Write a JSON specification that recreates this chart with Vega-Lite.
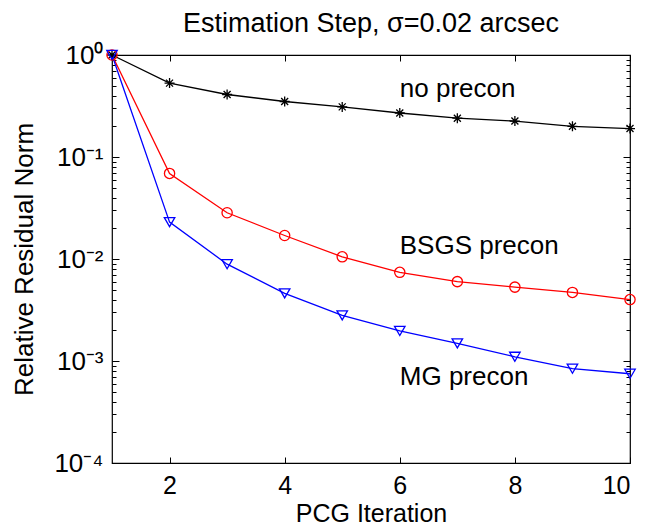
{
  "$schema": "https://vega.github.io/schema/vega-lite/v6.json",
  "autosize": "none",
  "padding": {"left": 112, "top": 55, "right": 16, "bottom": 69},
  "width": 518,
  "height": 408,
  "background": "white",
  "config": {
    "font": "Liberation Sans",
    "view": {"stroke": "black", "strokeWidth": 1.2},
    "axis": {"grid": false, "domain": false, "tickColor": "black", "labelColor": "black", "titleColor": "black", "labelFontSize": 25, "titleFontSize": 25, "titleFontWeight": "normal", "tickWidth": 1}
  },
  "title": {"text": "Estimation Step, σ=0.02 arcsec", "fontSize": 27, "fontWeight": "normal", "offset": 4, "color": "black"},
  "datasets": {
    "series": [
      {"iter": 1, "value": 1.0, "series": "no precon"},
      {"iter": 2, "value": 0.53, "series": "no precon"},
      {"iter": 3, "value": 0.41, "series": "no precon"},
      {"iter": 4, "value": 0.35, "series": "no precon"},
      {"iter": 5, "value": 0.31, "series": "no precon"},
      {"iter": 6, "value": 0.27, "series": "no precon"},
      {"iter": 7, "value": 0.24, "series": "no precon"},
      {"iter": 8, "value": 0.225, "series": "no precon"},
      {"iter": 9, "value": 0.2, "series": "no precon"},
      {"iter": 10, "value": 0.19, "series": "no precon"},
      {"iter": 1, "value": 1.0, "series": "BSGS precon"},
      {"iter": 2, "value": 0.069, "series": "BSGS precon"},
      {"iter": 3, "value": 0.0284, "series": "BSGS precon"},
      {"iter": 4, "value": 0.017, "series": "BSGS precon"},
      {"iter": 5, "value": 0.0105, "series": "BSGS precon"},
      {"iter": 6, "value": 0.0074, "series": "BSGS precon"},
      {"iter": 7, "value": 0.006, "series": "BSGS precon"},
      {"iter": 8, "value": 0.0053, "series": "BSGS precon"},
      {"iter": 9, "value": 0.0047, "series": "BSGS precon"},
      {"iter": 10, "value": 0.004, "series": "BSGS precon"},
      {"iter": 1, "value": 1.0, "series": "MG precon"},
      {"iter": 2, "value": 0.023, "series": "MG precon"},
      {"iter": 3, "value": 0.0089, "series": "MG precon"},
      {"iter": 4, "value": 0.0046, "series": "MG precon"},
      {"iter": 5, "value": 0.0028, "series": "MG precon"},
      {"iter": 6, "value": 0.00197, "series": "MG precon"},
      {"iter": 7, "value": 0.00149, "series": "MG precon"},
      {"iter": 8, "value": 0.0011, "series": "MG precon"},
      {"iter": 9, "value": 0.00084, "series": "MG precon"},
      {"iter": 10, "value": 0.00075, "series": "MG precon"}
    ],
    "labels": [
      {"iter": 6.0, "value": 0.39, "label": "no precon"},
      {"iter": 6.0, "value": 0.0112, "label": "BSGS precon"},
      {"iter": 6.0, "value": 0.00058, "label": "MG precon"}
    ]
  },
  "layer": [
    {
      "data": {"name": "series"},
      "mark": {"type": "line", "strokeWidth": 1.3},
      "encoding": {
        "x": {"field": "iter", "type": "quantitative", "scale": {"domain": [1, 10], "nice": false, "zero": false},
              "axis": {"orient": "bottom", "values": [2, 4, 6, 8, 10], "tickSize": -6, "labelPadding": 16, "title": "PCG Iteration", "titlePadding": 3}},
        "y": {"field": "value", "type": "quantitative", "scale": {"type": "log", "domain": [0.0001, 1], "nice": false},
              "axis": {"orient": "left",
                       "values": [0.0001,0.0002,0.0003,0.0004,0.0005,0.0006,0.0007,0.0008,0.0009,0.001,0.002,0.003,0.004,0.005,0.006,0.007,0.008,0.009,0.01,0.02,0.03,0.04,0.05,0.06,0.07,0.08,0.09,0.1,0.2,0.3,0.4,0.5,0.6,0.7,0.8,0.9,1],
                       "labelExpr": "abs(log(datum.value)/LN10 - round(log(datum.value)/LN10)) < 0.001 ? ['10⁰','10⁻¹','10⁻²','10⁻³','10⁻⁴'][-round(log(datum.value)/LN10)] : ''",
                       "labelFontSize": 26,
                       "tickSize": {"condition": {"test": "abs(log(datum.value)/LN10 - round(log(datum.value)/LN10)) < 0.001", "value": -7}, "value": -4},
                       "labelPadding": 16, "title": "Relative Residual Norm", "titleFontSize": 26, "titlePadding": 16}},
        "color": {"field": "series", "type": "nominal", "scale": {"domain": ["no precon", "BSGS precon", "MG precon"], "range": ["#000000", "#ff0000", "#0000ff"]}, "legend": null}
      }
    },
    {
      "data": {"name": "series"},
      "mark": {"type": "point", "filled": false, "strokeWidth": 1.3, "opacity": 1},
      "encoding": {
        "x": {"field": "iter", "type": "quantitative", "scale": {"domain": [1, 10], "nice": false, "zero": false},
              "axis": {"orient": "top", "values": [2, 4, 6, 8, 10], "tickSize": -6, "labels": false, "title": null}},
        "y": {"field": "value", "type": "quantitative", "scale": {"type": "log", "domain": [0.0001, 1], "nice": false},
              "axis": {"orient": "right",
                       "values": [0.0001,0.0002,0.0003,0.0004,0.0005,0.0006,0.0007,0.0008,0.0009,0.001,0.002,0.003,0.004,0.005,0.006,0.007,0.008,0.009,0.01,0.02,0.03,0.04,0.05,0.06,0.07,0.08,0.09,0.1,0.2,0.3,0.4,0.5,0.6,0.7,0.8,0.9,1],
                       "labels": false, "title": null,
                       "tickSize": {"condition": {"test": "abs(log(datum.value)/LN10 - round(log(datum.value)/LN10)) < 0.001", "value": -7}, "value": -4}}},
        "color": {"field": "series", "type": "nominal", "scale": {"domain": ["no precon", "BSGS precon", "MG precon"], "range": ["#000000", "#ff0000", "#0000ff"]}, "legend": null},
        "shape": {"field": "series", "type": "nominal", "scale": {"domain": ["no precon", "BSGS precon", "MG precon"], "range": ["M-1,0L1,0M0,-1L0,1M-0.7,-0.7L0.7,0.7M-0.7,0.7L0.7,-0.7", "circle", "triangle-down"]}, "legend": null},
        "size": {"field": "series", "type": "nominal", "scale": {"domain": ["no precon", "BSGS precon", "MG precon"], "range": [100, 110, 120]}, "legend": null}
      }
    },
    {
      "data": {"name": "labels"},
      "mark": {"type": "text", "align": "left", "baseline": "alphabetic", "fontSize": 26, "color": "black"},
      "encoding": {
        "x": {"field": "iter", "type": "quantitative", "scale": {"domain": [1, 10], "nice": false, "zero": false}, "axis": null},
        "y": {"field": "value", "type": "quantitative", "scale": {"type": "log", "domain": [0.0001, 1], "nice": false}, "axis": null},
        "text": {"field": "label"}
      }
    }
  ],
  "resolve": {"axis": {"x": "independent", "y": "independent"}}
}
